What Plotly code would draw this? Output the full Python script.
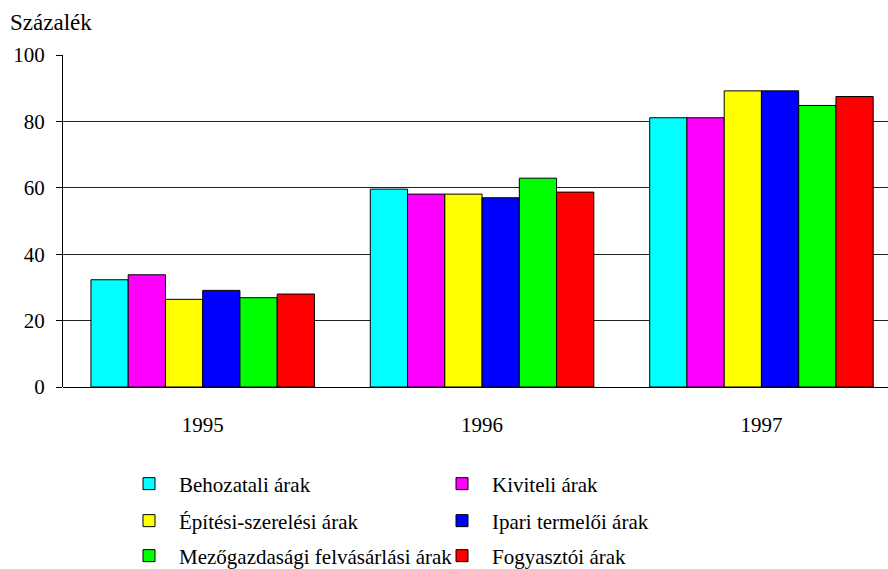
import plotly.graph_objects as go

years = ["1995", "1996", "1997"]
series_names = [
    "Behozatali árak",
    "Kiviteli árak",
    "Építési-szerelési árak",
    "Ipari termelői árak",
    "Mezőgazdasági felvásárlási árak",
    "Fogyasztói árak",
]
behozatali = [32.3, 59.6, 81.1]
kiviteli = [33.8, 58.1, 81.1]
epitesi = [26.4, 58.1, 89.2]
ipari = [29.1, 57.0, 89.2]
mezogazdasagi = [26.9, 62.9, 84.8]
fogyasztoi = [28.0, 58.7, 87.5]
values = [behozatali, kiviteli, epitesi, ipari, mezogazdasagi, fogyasztoi]
colors = ["#00FFFF", "#FF00FF", "#FFFF00", "#0000FF", "#00FF00", "#FF0000"]
y_ticks = [0, 20, 40, 60, 80, 100]

FONT = "Liberation Serif, Times New Roman, serif"
W, H = 888, 569
ML, MR, MT, MB = 63, 0, 55, 182
pw = W - ML - MR
ph = H - MT - MB

def px_to_paper_x(px):
    return (px - ML) / pw

def py_to_paper_y(py):
    return (H - MB - py) / ph

legend_names = ["legend", "legend2", "legend3", "legend4", "legend5", "legend6"]
col_x = [149, 462]
row_y = [484, 521, 556]

fig = go.Figure()
layout_legends = {}
for i, (name, vals, col) in enumerate(zip(series_names, values, colors)):
    lg = legend_names[i]
    fig.add_trace(go.Bar(
        name=name, x=years, y=vals,
        marker=dict(color=col, line=dict(color="black", width=1)),
        legend=lg,
    ))
    cx = col_x[i % 2]
    ry = row_y[i // 2]
    layout_legends[lg] = dict(
        x=px_to_paper_x(cx - 30), xanchor="left",
        y=py_to_paper_y(ry), yanchor="middle",
        orientation="v", itemwidth=50,
        font=dict(family=FONT, size=21, color="black"),
        bgcolor="rgba(0,0,0,0)", borderwidth=0,
        itemclick=False, itemdoubleclick=False,
    )

fig.update_layout(
    width=W, height=H,
    margin=dict(l=ML, r=MR, t=MT, b=MB, pad=0, autoexpand=False),
    paper_bgcolor="white", plot_bgcolor="white",
    barmode="group", bargap=0.2, bargroupgap=0,
    font=dict(family=FONT, size=21, color="black"),
    showlegend=True,
    **layout_legends,
)
fig.update_xaxes(
    type="category", range=[-0.5, 2.453],
    showgrid=False, showline=False, ticks="",
    tickfont=dict(family=FONT, size=21, color="black"),
    ticklabelstandoff=23,
    zeroline=False,
)
fig.update_yaxes(
    range=[0, 100], tickvals=y_ticks,
    showgrid=True, gridcolor="#222222", gridwidth=1,
    showline=True, linecolor="black", linewidth=1,
    ticks="outside", ticklen=6, tickcolor="black",
    tickfont=dict(family=FONT, size=21, color="black"),
    ticklabelstandoff=7,
    zeroline=True, zerolinecolor="black", zerolinewidth=1,
)
fig.add_annotation(
    text="Százalék", xref="paper", yref="paper",
    x=px_to_paper_x(8), xanchor="left",
    y=py_to_paper_y(22), yanchor="middle",
    showarrow=False, font=dict(family=FONT, size=23, color="black"),
)
fig.write_html(
    "out.html",
    config={"displayModeBar": False},
    post_script="document.body.style.margin='0';document.body.style.padding='0';",
)
